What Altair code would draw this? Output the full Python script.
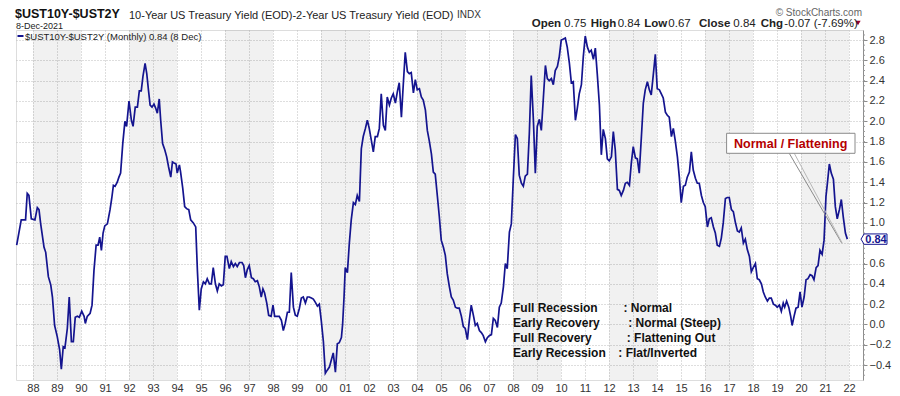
import altair as alt
import pandas as pd

FONT = "Liberation Sans"
NAVY = "#14148f"

# ---- monthly spread series (fractional year, value) ----
t = [1987.32, 1987.51, 1987.69, 1987.76, 1987.83, 1987.93, 1988.08, 1988.18, 1988.25, 1988.32,
     1988.46, 1988.53, 1988.64, 1988.74, 1988.81, 1988.90, 1989.01, 1989.11, 1989.18, 1989.26,
     1989.33, 1989.43, 1989.51, 1989.60, 1989.68, 1989.76, 1989.85, 1989.93, 1990.03, 1990.13,
     1990.18, 1990.26, 1990.38, 1990.46, 1990.54, 1990.63, 1990.71, 1990.78, 1990.85, 1990.92,
     1990.99, 1991.10, 1991.21, 1991.28, 1991.35, 1991.42, 1991.51, 1991.58, 1991.65, 1991.74,
     1991.83, 1991.90, 1992.00, 1992.10, 1992.17, 1992.26, 1992.35, 1992.43, 1992.51, 1992.58,
     1992.67, 1992.74, 1992.81, 1992.88, 1992.96, 1993.04, 1993.11, 1993.18, 1993.26, 1993.32,
     1993.40, 1993.49, 1993.57, 1993.65, 1993.74, 1993.81, 1993.88, 1993.96, 1994.01, 1994.10,
     1994.15, 1994.24, 1994.32, 1994.40, 1994.49, 1994.57, 1994.68, 1994.78, 1994.85, 1994.93,
     1995.01, 1995.10, 1995.18, 1995.26, 1995.35, 1995.43, 1995.51, 1995.60, 1995.68, 1995.76,
     1995.85, 1995.93, 1996.01, 1996.08, 1996.18, 1996.26, 1996.35, 1996.43, 1996.51, 1996.60,
     1996.71, 1996.78, 1996.85, 1996.93, 1997.01, 1997.10, 1997.18, 1997.26, 1997.35, 1997.43,
     1997.51, 1997.58, 1997.65, 1997.74, 1997.82, 1997.92, 1998.00, 1998.07, 1998.15, 1998.26,
     1998.35, 1998.43, 1998.51, 1998.60, 1998.68, 1998.76, 1998.85, 1998.93, 1999.01, 1999.10,
     1999.18, 1999.26, 1999.35, 1999.43, 1999.51, 1999.60, 1999.68, 1999.76, 1999.85, 1999.93,
     2000.01, 2000.10, 2000.18, 2000.26, 2000.35, 2000.43, 2000.51, 2000.60, 2000.68, 2000.76,
     2000.85, 2000.90, 2000.96, 2001.01, 2001.10, 2001.18, 2001.26, 2001.35, 2001.43, 2001.51,
     2001.60, 2001.68, 2001.76, 2001.85, 2001.93, 2002.01, 2002.10, 2002.18, 2002.26, 2002.35,
     2002.43, 2002.51, 2002.60, 2002.68, 2002.76, 2002.85, 2002.93, 2003.01, 2003.10, 2003.18,
     2003.26, 2003.35, 2003.43, 2003.51, 2003.60, 2003.68, 2003.76, 2003.85, 2003.93, 2004.01,
     2004.10, 2004.18, 2004.26, 2004.35, 2004.43, 2004.51, 2004.60, 2004.68, 2004.76, 2004.85,
     2004.93, 2005.01, 2005.10, 2005.18, 2005.26, 2005.35, 2005.43, 2005.51, 2005.60, 2005.68,
     2005.76, 2005.85, 2005.93, 2006.01, 2006.10, 2006.18, 2006.26, 2006.35, 2006.43, 2006.51,
     2006.60, 2006.68, 2006.76, 2006.85, 2006.93, 2007.01, 2007.10, 2007.18, 2007.26, 2007.35,
     2007.43, 2007.51, 2007.60, 2007.68, 2007.76, 2007.85, 2007.93, 2008.01, 2008.10, 2008.18,
     2008.26, 2008.35, 2008.43, 2008.51, 2008.60, 2008.68, 2008.76, 2008.85, 2008.93, 2009.01,
     2009.10, 2009.18, 2009.26, 2009.35, 2009.43, 2009.51, 2009.60, 2009.68, 2009.76, 2009.85,
     2009.93, 2010.01, 2010.10, 2010.18, 2010.26, 2010.35, 2010.43, 2010.51, 2010.60, 2010.68,
     2010.76, 2010.85, 2010.93, 2011.01, 2011.10, 2011.18, 2011.26, 2011.35, 2011.43, 2011.51,
     2011.60, 2011.68, 2011.76, 2011.85, 2011.93, 2012.01, 2012.10, 2012.18, 2012.26, 2012.35,
     2012.43, 2012.51, 2012.60, 2012.68, 2012.76, 2012.85, 2012.93, 2013.01, 2013.10, 2013.18,
     2013.26, 2013.35, 2013.43, 2013.51, 2013.60, 2013.68, 2013.76, 2013.85, 2013.93, 2014.01,
     2014.10, 2014.18, 2014.26, 2014.35, 2014.43, 2014.51, 2014.60, 2014.68, 2014.76, 2014.85,
     2014.93, 2015.01, 2015.10, 2015.18, 2015.26, 2015.35, 2015.43, 2015.51, 2015.60, 2015.68,
     2015.76, 2015.85, 2015.93, 2016.01, 2016.10, 2016.18, 2016.26, 2016.35, 2016.43, 2016.51,
     2016.60, 2016.68, 2016.76, 2016.85, 2016.93, 2017.01, 2017.10, 2017.18, 2017.26, 2017.35,
     2017.43, 2017.51, 2017.60, 2017.68, 2017.76, 2017.85, 2017.93, 2018.01, 2018.10, 2018.18,
     2018.26, 2018.35, 2018.43, 2018.51, 2018.60, 2018.68, 2018.76, 2018.85, 2018.93, 2019.01,
     2019.10, 2019.18, 2019.26, 2019.32, 2019.40, 2019.49, 2019.57, 2019.63, 2019.71, 2019.79,
     2019.88, 2019.96, 2020.04, 2020.13, 2020.21, 2020.29, 2020.38, 2020.46, 2020.54, 2020.63,
     2020.71, 2020.79, 2020.88, 2020.96, 2021.04, 2021.10, 2021.18, 2021.26, 2021.35, 2021.43,
     2021.51, 2021.60, 2021.68, 2021.76, 2021.85, 2021.93]

v = [0.78, 1.03, 1.03, 1.29, 1.27, 1.04, 1.03, 1.15, 1.13, 0.99,
     0.76, 0.71, 0.47, 0.39, 0.27, -0.01, -0.12, -0.25, -0.44, -0.22,
     -0.23, -0.04, 0.27, -0.17, -0.17, 0.07, 0.08, 0.07, 0.13, 0.08,
     0.01, 0.08, 0.11, 0.19, 0.53, 0.78, 0.78, 0.86, 0.73, 0.90,
     0.97, 0.99, 1.13, 1.24, 1.37, 1.36, 1.40, 1.45, 1.49, 1.78,
     2.00, 1.95, 2.20, 2.01, 1.95, 2.14, 2.14, 2.30, 2.30, 2.44,
     2.57, 2.47, 2.31, 2.16, 2.14, 2.17, 2.13, 2.08, 2.22, 2.01,
     1.78, 1.72, 1.65, 1.55, 1.45, 1.60, 1.59, 1.58, 1.49, 1.57,
     1.50, 1.34, 1.16, 1.14, 1.13, 1.03, 1.00, 0.96, 0.53, 0.14,
     0.35, 0.42, 0.40, 0.45, 0.40, 0.40, 0.56, 0.40, 0.33, 0.40,
     0.38, 0.39, 0.67, 0.67, 0.55, 0.62, 0.57, 0.60, 0.57, 0.61,
     0.61, 0.58, 0.46, 0.54, 0.58, 0.46, 0.45, 0.42, 0.43, 0.37,
     0.27, 0.35, 0.31, 0.21, 0.09, 0.08, 0.19, 0.08, 0.08, 0.08,
     0.04, -0.06, 0.01, 0.12, 0.12, 0.51, 0.17, 0.09, 0.08, 0.16,
     0.26, 0.27, 0.21, 0.27, 0.27, 0.26, 0.25, 0.22, 0.18, 0.20,
     0.04, -0.17, -0.48, -0.45, -0.42, -0.35, -0.28, -0.47, -0.19, -0.18,
     -0.13, 0.00, 0.27, 0.56, 0.51, 0.80, 1.03, 1.20, 1.18, 1.27,
     1.21, 1.73, 1.85, 1.93, 2.01, 1.93, 1.81, 1.70, 1.85, 1.85,
     1.93, 2.27, 1.96, 1.91, 2.24, 2.16, 2.23, 2.27, 2.18, 2.29,
     2.38, 2.04, 2.37, 2.68, 2.49, 2.47, 2.48, 2.28, 2.41, 2.31,
     2.32, 2.24, 2.21, 2.11, 1.91, 1.81, 1.68, 1.50, 1.48, 1.26,
     1.06, 0.83, 0.76, 0.68, 0.50, 0.37, 0.27, 0.24, 0.17, 0.16,
     0.16, 0.08, -0.02, -0.04, -0.15, 0.04, 0.19, 0.09, -0.01, 0.01,
     -0.06, -0.08, -0.11, -0.17, -0.13, -0.11, -0.10, 0.06, 0.04, -0.03,
     0.17, 0.21, 0.37, 0.60, 0.55, 0.91, 0.99, 1.42, 1.87, 1.83,
     1.47, 1.39, 1.36, 1.46, 1.48, 1.88, 2.45, 2.01, 1.49, 1.95,
     2.02, 1.91, 2.21, 2.55, 2.42, 2.40, 2.42, 2.36, 2.50, 2.54,
     2.64, 2.80, 2.81, 2.82, 2.73, 2.57, 2.38, 2.39, 2.01, 2.13,
     2.27, 2.36, 2.64, 2.84, 2.73, 2.68, 2.70, 2.61, 2.72, 2.47,
     2.16, 1.67, 1.92, 1.83, 1.63, 1.61, 1.65, 1.90, 1.72, 1.33,
     1.32, 1.27, 1.32, 1.39, 1.40, 1.37, 1.59, 1.75, 1.64, 1.63,
     1.49, 1.85, 2.18, 2.31, 2.39, 2.31, 2.26, 2.47, 2.66, 2.32,
     2.31, 2.27, 2.23, 2.09, 2.06, 2.04, 1.85, 1.93, 1.81, 1.65,
     1.45, 1.20, 1.36, 1.37, 1.45, 1.50, 1.70, 1.52, 1.44, 1.39,
     1.39, 1.27, 1.20, 1.16, 0.96, 1.04, 1.05, 0.96, 0.90, 0.78,
     0.77, 0.85, 1.00, 1.24, 1.25, 1.25, 1.13, 1.11, 1.01, 0.92,
     0.91, 0.95, 0.80, 0.84, 0.74, 0.67, 0.52, 0.56, 0.60, 0.45,
     0.44, 0.40, 0.32, 0.27, 0.23, 0.26, 0.26, 0.20, 0.19, 0.17,
     0.19, 0.13, 0.21, 0.17, 0.23, 0.17, 0.08, -0.01, 0.08, 0.16,
     0.17, 0.32, 0.17, 0.27, 0.44, 0.45, 0.49, 0.48, 0.44, 0.56,
     0.58, 0.73, 0.69, 0.83, 1.26, 1.39, 1.58, 1.49, 1.43, 1.16,
     1.04, 1.13, 1.23, 1.06, 0.90, 0.84]

year_ticks = list(range(1988, 2023))
y_ticks = [-0.4, -0.2, 0.0, 0.2, 0.4, 0.6, 0.8, 1.0, 1.2, 1.4, 1.6, 1.8, 2.0, 2.2, 2.4, 2.6, 2.8]
minor_ticks = [round(-0.5 + 0.05 * i, 2) for i in range(68)]
band_start = list(range(1988, 2022, 4))
band_end = [b + 2 for b in band_start]

phase_names = ["Full Recession", "Early Recovery", "Full Recovery", "Early Recession"]
phase_curve = [": Normal", ": Normal (Steep)", ": Flattening Out", ": Flat/Inverted"]
phase_y = [0.125, -0.023, -0.170, -0.318]
phase_name_x = [2008.0, 2008.0, 2008.0, 2008.0]
phase_curve_x = [2012.60, 2012.80, 2012.74, 2012.39]

callout_text = "Normal / Flattening"
last_value = 0.84

W, H = 847, 350
X0, X1 = 1987.2917, 2022.583
Y0, Y1 = -0.547, 2.899
xs = alt.Scale(domain=[X0, X1], nice=False, zero=False)
ys = alt.Scale(domain=[Y0, Y1], nice=False, zero=False)

X_AXIS = alt.Axis(values=year_ticks, labelExpr="slice('0' + (datum.value % 100), -2)",
                  grid=True, gridDash=[1, 2], gridColor="#bdbdbd", domain=False, ticks=False,
                  labelPadding=2, labelFontSize=11, labelColor="#333", labelFont=FONT,
                  title=None, labelFlush=False)
Y_AXIS = alt.Axis(orient="right", values=y_ticks, format=".1f",
                  labelExpr="abs(datum.value - 0.8) < 0.001 ? '' : datum.label",
                  grid=True, gridDash=[1, 2],
                  gridColor="#bdbdbd", domain=True, domainColor="#8c8c8c", tickColor="#8c8c8c",
                  tickSize=4, labelPadding=2, labelFontSize=11, labelColor="#333",
                  labelFont=FONT, title=None, labelAlign="left")


def X(f):
    return alt.X(f, scale=xs, axis=X_AXIS, title=None)


def Y(f):
    return alt.Y(f, scale=ys, axis=Y_AXIS, title=None)


df = pd.DataFrame({"t": t, "v": v})
bands = pd.DataFrame({"a": band_start, "b": band_end})

band_layer = alt.Chart(bands).mark_rect(color="#000000", opacity=0.055).encode(
    x=X("a:Q"), x2="b:Q", y=alt.value(0), y2=alt.value(H))

minor = alt.Chart(pd.DataFrame({"m": minor_ticks})).mark_rule(color="#9a9a9a", strokeWidth=1).encode(
    y=Y("m:Q"), x=alt.value(W), x2=alt.value(W + 2))

line_layer = alt.Chart(df).mark_line(color=NAVY, strokeWidth=1.7).encode(
    x=X("t:Q"), y=Y("v:Q"))

phase_df = pd.DataFrame({"n": phase_names, "c": phase_curve, "y": phase_y,
                         "nx": phase_name_x, "cx": phase_curve_x})
phase_a = alt.Chart(phase_df).mark_text(align="left", baseline="alphabetic", fontSize=12,
                                        fontWeight="bold", font=FONT, color="#111").encode(
    x=X("nx:Q"), y=Y("y:Q"), text="n:N")
phase_b = alt.Chart(phase_df).mark_text(align="left", baseline="alphabetic", fontSize=12,
                                        fontWeight="bold", font=FONT, color="#111").encode(
    x=X("cx:Q"), y=Y("y:Q"), text="c:N")

# callout wedge + box (data coordinates)
wedge = pd.DataFrame({"x": [2019.51, 2019.72], "y": [1.685, 1.685],
                      "x2": [2021.70, 2021.72], "y2": [0.80, 0.80],
                      "c": ["#8a8a8a", "#b8b8b8"]})
wedge_layer = alt.Chart(wedge).mark_rule(strokeWidth=1).encode(
    x=X("x:Q"), y=Y("y:Q"), x2="x2:Q", y2="y2:Q", color=alt.Color("c:N", scale=None))
box = pd.DataFrame({"x": [2016.90], "x2": [2022.25], "y": [1.685], "y2": [1.882],
                    "tx": [2019.57], "ty": [1.734], "s": [callout_text]})
box_layer = alt.Chart(box).mark_rect(fill="white", stroke="#8a8a8a", strokeWidth=1).encode(
    x=X("x:Q"), x2="x2:Q", y=Y("y:Q"), y2="y2:Q")
box_text = alt.Chart(box).mark_text(align="center", baseline="alphabetic", fontSize=12.5,
                                    fontWeight="bold", font=FONT, color="#b50000").encode(
    x=X("tx:Q"), y=Y("ty:Q"), text="s:N")

# current value tag on the right axis
tag = pd.DataFrame({"y": [last_value], "s": [f"{last_value:.2f}"]})
tag_shape = alt.Chart(tag).mark_point(
    shape="M-1,0L-0.76,-0.4L1,-0.4L1,0.4L-0.76,0.4Z", size=676, filled=False,
    fill="white", fillOpacity=1, stroke=NAVY, strokeWidth=1, opacity=1).encode(
    x=alt.value(W + 11), y=Y("y:Q"))
tag_text = alt.Chart(tag).mark_text(align="center", baseline="middle", fontSize=11,
                                    fontWeight="bold", font=FONT, color=NAVY, dy=0.5).encode(
    x=alt.value(W + 13), y=Y("y:Q"), text="s:N")


def label(s, x, y, size=11, weight="normal", color="#222", align="left"):
    return alt.Chart(pd.DataFrame({"s": [s]})).mark_text(
        align=align, baseline="alphabetic", fontSize=size, fontWeight=weight,
        color=color, font=FONT).encode(text="s:N", x=alt.value(x), y=alt.value(y))


header = [
    label("$UST10Y-$UST2Y", -1, -11.7, size=12.5, weight="bold", color="#111"),
    label("10-Year US Treasury Yield (EOD)-2-Year US Treasury Yield (EOD)", 113, -11.5, size=11, color="#222"),
    label("INDX", 441, -12.5, size=10, color="#333"),
    label("8-Dec-2021", 0, -0.9, size=9, color="#222"),
    label("\u00a9 StockCharts.com", W - 1, -14, size=10, color="#666", align="right"),
    label("$UST10Y-$UST2Y (Monthly) 0.84 (8 Dec)", 9, 9.6, size=9.5, color="#222"),
]
ohlc = [("Open", 515.7, True), ("0.75", 548, False), ("High", 574.7, True), ("0.84", 601.7, False),
        ("Low", 628.3, True), ("0.67", 652.3, False), ("Close", 683, True), ("0.84", 717.3, False),
        ("Chg", 744.7, True), ("-0.07 (-7.69%)", 768.3, False)]
for s, x, b in ohlc:
    header.append(label(s, x, -3, size=11.5, weight="bold" if b else "normal", color="#222"))

tri = alt.Chart(pd.DataFrame({"k": [1]})).mark_point(
    shape="triangle-down", filled=True, size=28, color="#990030", opacity=1).encode(
    x=alt.value(842), y=alt.value(-7))
legend_dash = alt.Chart(pd.DataFrame({"k": [1]})).mark_rule(color=NAVY, strokeWidth=2).encode(
    x=alt.value(1.5), x2=alt.value(7.5), y=alt.value(6))

chart = alt.layer(
    band_layer, minor, line_layer, phase_a, phase_b,
    wedge_layer, box_layer, box_text, tag_shape, tag_text, tri, legend_dash, *header
).properties(
    width=W, height=H,
    padding={"left": 8, "top": 22, "right": 29, "bottom": 16},
    autosize=alt.AutoSizeParams(type="none"),
).configure_view(fill="#f1f1f1", stroke="#8c8c8c", strokeWidth=1
).configure(background="white")

chart.save("out.html", embed_options={"renderer": "svg", "actions": False})
